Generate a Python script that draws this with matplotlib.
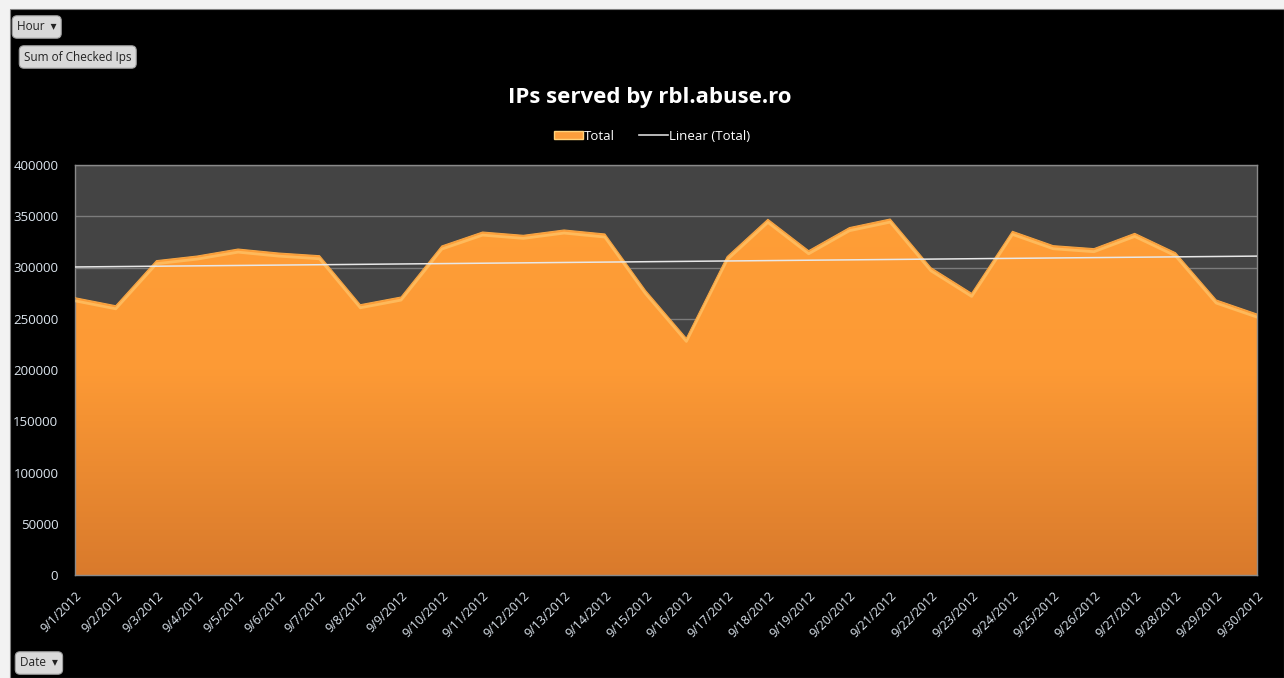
import numpy as np
import matplotlib
matplotlib.use("Agg")
import matplotlib.pyplot as plt
from matplotlib.patches import Rectangle
from matplotlib.lines import Line2D

# data
dates = [f"9/{d}/2012" for d in range(1, 31)]
total = [270500, 262700, 306700, 311200, 318000, 314100, 311500, 263700, 271200, 321000,
         334600, 331400, 336600, 332700, 277400, 230900, 310600, 347000, 316400, 338900,
         347300, 299800, 274800, 335300, 321300, 318400, 333300, 314400, 268300, 254600]
yticks = [0, 50000, 100000, 150000, 200000, 250000, 300000, 350000, 400000]

plt.rcParams['font.family'] = ['Open Sans', 'DejaVu Sans']
txt = '#dde6ef'

fig = plt.figure(figsize=(12.84, 6.78), dpi=100)
fig.patch.set_facecolor('#f2f2f2')
# black chart container
fig.patches.append(Rectangle((10 / 1284, 0), 1 - 10 / 1284, 1 - 9 / 678,
                             transform=fig.transFigure, facecolor='black',
                             edgecolor='#808080', lw=0.8, zorder=-5))

ax = fig.add_axes([75 / 1284, 103 / 678, 1182 / 1284, 410 / 678])
ax.set_facecolor('#444444')
x = np.arange(len(total))
y = np.array(total)

ax.yaxis.grid(True, color='#7c7c7c', lw=1)
ax.set_axisbelow(True)

# gradient filled area
poly = ax.fill_between(x, y, 0, color='none', lw=0, zorder=2)
grad = np.linspace(0, 1, 256).reshape(-1, 1)
cmap = matplotlib.colors.LinearSegmentedColormap.from_list('g', ['#ff9f38', '#fd9a35', '#d97a2c'])
im = ax.imshow(grad, extent=[0, len(total) - 1, 0, 400000], aspect='auto', cmap=cmap,
               origin='upper', zorder=2)
im.set_clip_path(poly.get_paths()[0], transform=ax.transData)
ax.set_xlim(0, len(total) - 1)
ax.set_ylim(0, 400000)
ax.set_yticks(yticks)
# bevel highlight along the top edge
ax.plot(x, y - 3000, color='#ffd27a', lw=2.0, alpha=0.55, zorder=3)
ax.plot(x, y, color='#f7a543', lw=0.8, zorder=3)

# linear trend
k, b = np.polyfit(x, y, 1)
ax.plot(x, k * x + b, color='#e8e8e8', lw=1.1, zorder=4)

for s in ax.spines.values():
    s.set_color('#8a8a8a')
    s.set_linewidth(1)
ax.tick_params(axis='both', length=0, colors=txt, labelsize=9.5)
ax.tick_params(axis='y', pad=12)
ax.set_yticklabels([str(v) for v in yticks])
ax.set_xticks(x)
ax.set_xticklabels(dates, rotation=45, ha='right', rotation_mode='anchor', fontsize=9)
ax.tick_params(axis='x', pad=10)

fig.text(650 / 1284, 1 - 97 / 678, 'IPs served by rbl.abuse.ro', color='white',
         fontsize=16, fontweight='bold', ha='center', va='center')

h1 = Rectangle((0, 0), 1, 1, facecolor='#fb9e3c', edgecolor='#ffd27a', lw=1)
h2 = Line2D([], [], color='#d8d8d8', lw=1.2)
leg = fig.legend([h1, h2], ['Total', 'Linear (Total)'], loc='center',
                 bbox_to_anchor=(652 / 1284, 1 - 136 / 678), ncol=2, frameon=False,
                 fontsize=9.5, handlelength=2.2, handleheight=0.6, handletextpad=0.1,
                 columnspacing=1.8, labelcolor='white')

btn = dict(boxstyle='round,pad=0.4,rounding_size=0.4', facecolor='#d9d9d9', edgecolor='#a0a0a0', lw=0.8)
fig.text(17 / 1284, 1 - 27 / 678, 'Hour  \u25BE', fontsize=8.5, color='#222222', va='center', bbox=btn)
fig.text(24 / 1284, 1 - 57 / 678, 'Sum of Checked Ips', fontsize=8.5, color='#222222', va='center', bbox=btn)
fig.text(20 / 1284, 1 - 663 / 678, 'Date  \u25BE', fontsize=8.5, color='#222222', va='center', bbox=btn)

fig.savefig('out.png', dpi=100, facecolor=fig.get_facecolor())
